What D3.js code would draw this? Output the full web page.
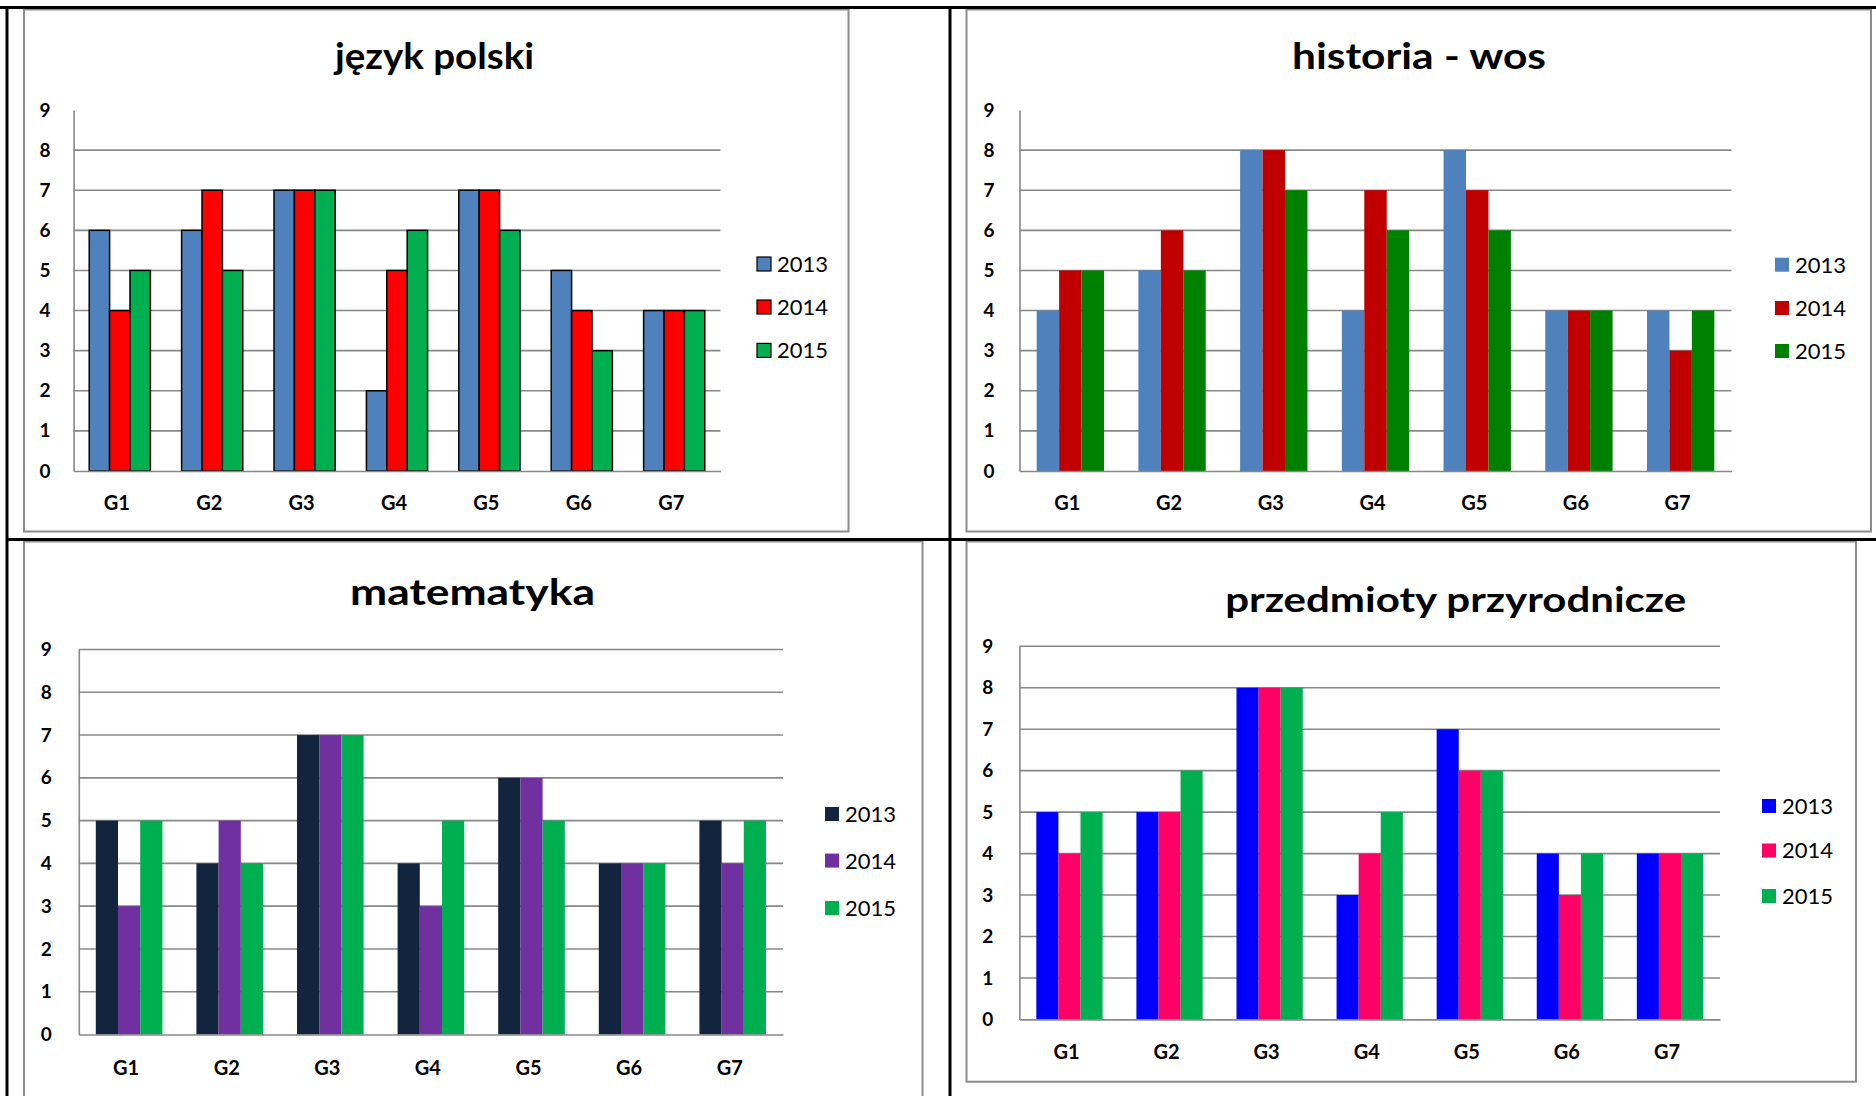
<!DOCTYPE html>
<html>
<head>
<meta charset="utf-8">
<script src="https://cdn.jsdelivr.net/npm/d3@7"></script>
<style>
  body { margin: 0; background: #fff; }
  svg { display: block; }
</style>
</head>
<body>
<script>
// Categories and series
const groups = ["G1", "G2", "G3", "G4", "G5", "G6", "G7"];
const years = ["2013", "2014", "2015"];
const yTicks = [0, 1, 2, 3, 4, 5, 6, 7, 8, 9];

// język polski
const polski2013 = [6, 6, 7, 2, 7, 5, 4];
const polski2014 = [4, 7, 7, 5, 7, 4, 4];
const polski2015 = [5, 5, 7, 6, 6, 3, 4];

// historia - wos
const historia2013 = [4, 5, 8, 4, 8, 4, 4];
const historia2014 = [5, 6, 8, 7, 7, 4, 3];
const historia2015 = [5, 5, 7, 6, 6, 4, 4];

// matematyka
const mat2013 = [5, 4, 7, 4, 6, 4, 5];
const mat2014 = [3, 5, 7, 3, 6, 4, 4];
const mat2015 = [5, 4, 7, 5, 5, 4, 5];

// przedmioty przyrodnicze
const przyr2013 = [5, 5, 8, 3, 7, 4, 4];
const przyr2014 = [4, 5, 8, 4, 6, 3, 4];
const przyr2015 = [5, 6, 8, 5, 6, 4, 4];

const W = 1876, H = 1096;

const svg = d3.select("body")
  .append("svg")
  .attr("width", W)
  .attr("height", H);

// layout of the four panels
const charts = [
  {
    title: "język polski", titleX: 434.5, titleY: 69, titleW: 199, titleSize: 37,
    box: [24, 9.5, 848.5, 531.5],
    x0: 73.6, x1: 720.4, yBottom: 471, yTop: 110, topGrid: false,
    series: [polski2013, polski2014, polski2015],
    colors: ["#4F81BD", "#FF0000", "#00B050"], barStroke: "#000",
    legendX: 757, legendY: [264, 307, 350.4], yPad: 23, xPad: 25
  },
  {
    title: "historia - wos", titleX: 1419, titleY: 68.5, titleW: 254, titleSize: 37,
    box: [966.5, 9.5, 1871, 531.5],
    x0: 1019.5, x1: 1731.5, yBottom: 471, yTop: 110, topGrid: false,
    series: [historia2013, historia2014, historia2015],
    colors: ["#4F81BD", "#C00000", "#008000"], barStroke: null,
    legendX: 1775, legendY: [264.7, 308, 351], yPad: 25, xPad: 25
  },
  {
    title: "matematyka", titleX: 472.5, titleY: 605, titleW: 245, titleSize: 37,
    box: [24, 541.5, 922.5, 1110],
    x0: 78.8, x1: 783, yBottom: 1034.5, yTop: 649.5, topGrid: true,
    series: [mat2013, mat2014, mat2015],
    colors: ["#13243F", "#7030A0", "#00B050"], barStroke: null,
    legendX: 825, legendY: [814, 860.6, 908], yPad: 27, xPad: 26.5
  },
  {
    title: "przedmioty przyrodnicze", titleX: 1455.7, titleY: 612, titleW: 461, titleSize: 35,
    box: [966.5, 541.5, 1856, 1081.7],
    x0: 1019.4, x1: 1720, yBottom: 1019.4, yTop: 646.3, topGrid: true,
    series: [przyr2013, przyr2014, przyr2015],
    colors: ["#0000FF", "#FF0066", "#00B050"], barStroke: null,
    legendX: 1762, legendY: [806, 850.5, 896], yPad: 26, xPad: 25.6
  }
];

function drawChart(c) {
  const g = svg.append("g");

  // chart frame
  g.append("rect")
    .attr("x", c.box[0])
    .attr("y", c.box[1])
    .attr("width", c.box[2] - c.box[0])
    .attr("height", c.box[3] - c.box[1])
    .attr("fill", "#fff")
    .attr("stroke", "#8c8c8c")
    .attr("stroke-width", 2);

  // title
  g.append("text")
    .attr("x", c.titleX)
    .attr("y", c.titleY)
    .attr("text-anchor", "middle")
    .attr("font-family", "Lato, 'Open Sans', sans-serif")
    .attr("font-weight", "bold")
    .attr("font-size", c.titleSize + "px")
    .attr("textLength", c.titleW)
    .attr("lengthAdjust", "spacingAndGlyphs")
    .text(c.title);

  const x = d3.scaleBand()
    .domain(groups)
    .range([c.x0, c.x1])
    .paddingInner(0.338)
    .paddingOuter(0.169);

  const xs = d3.scaleBand()
    .domain(years)
    .range([0, x.bandwidth()]);

  const y = d3.scaleLinear()
    .domain([0, 9])
    .range([c.yBottom, c.yTop]);

  // gridlines
  const gridVals = yTicks.filter(v => v > 0 && (c.topGrid || v < 9));
  g.selectAll(".grid")
    .data(gridVals)
    .enter()
    .append("line")
    .attr("class", "grid")
    .attr("x1", c.x0)
    .attr("x2", c.x1)
    .attr("y1", d => y(d))
    .attr("y2", d => y(d))
    .attr("stroke", "#888")
    .attr("stroke-width", 1.6);

  // bars
  years.forEach((yr, i) => {
    g.selectAll(".bar" + i)
      .data(c.series[i])
      .enter()
      .append("rect")
      .attr("x", (d, j) => x(groups[j]) + xs(yr))
      .attr("y", d => y(d))
      .attr("width", xs.bandwidth())
      .attr("height", d => y(0) - y(d))
      .attr("fill", c.colors[i])
      .attr("stroke", c.barStroke)
      .attr("stroke-width", c.barStroke ? 1.5 : 0);
  });

  // y axis
  const yAxis = g.append("g")
    .attr("transform", "translate(" + c.x0 + ",0)")
    .call(d3.axisLeft(y).tickValues(yTicks).tickSize(0).tickPadding(c.yPad).tickFormat(d3.format("d")));
  yAxis.select(".domain").attr("stroke", "#888").attr("stroke-width", 1.6);
  yAxis.selectAll("text")
    .attr("font-family", "Lato, 'Open Sans', sans-serif")
    .attr("font-weight", "bold")
    .attr("font-size", "19px")
    .attr("fill", "#000");

  // x axis
  const xAxis = g.append("g")
    .attr("transform", "translate(0," + c.yBottom + ")")
    .call(d3.axisBottom(x).tickSize(0).tickPadding(c.xPad));
  xAxis.select(".domain").attr("stroke", "#888").attr("stroke-width", 1.6);
  xAxis.selectAll("text")
    .attr("dx", -3)
    .attr("font-family", "Lato, 'Open Sans', sans-serif")
    .attr("font-weight", "bold")
    .attr("font-size", "20px")
    .attr("fill", "#000");

  // legend
  const legend = g.selectAll(".legend")
    .data(years)
    .enter()
    .append("g")
    .attr("class", "legend")
    .attr("transform", (d, i) => "translate(" + c.legendX + "," + c.legendY[i] + ")");

  legend.append("rect")
    .attr("x", 0)
    .attr("y", -7)
    .attr("width", 14)
    .attr("height", 14)
    .attr("fill", (d, i) => c.colors[i])
    .attr("stroke", c.barStroke)
    .attr("stroke-width", c.barStroke ? 1.2 : 0);

  legend.append("text")
    .attr("x", 20)
    .attr("y", 0)
    .attr("dy", "0.36em")
    .attr("font-family", "Lato, 'Open Sans', sans-serif")
    .attr("font-size", "22px")
    .attr("fill", "#000")
    .text(d => d);
}

charts.forEach(drawChart);

// table borders around the panels
const borders = [
  [0, 7.5, W, 7.5],
  [7, 7.5, 7, H],
  [950, 7.5, 950, H],
  [6, 539.5, W, 539.5]
];
svg.selectAll(".border")
  .data(borders)
  .enter()
  .append("line")
  .attr("class", "border")
  .attr("x1", d => d[0])
  .attr("y1", d => d[1])
  .attr("x2", d => d[2])
  .attr("y2", d => d[3])
  .attr("stroke", "#000")
  .attr("stroke-width", 3);
</script>
</body>
</html>
